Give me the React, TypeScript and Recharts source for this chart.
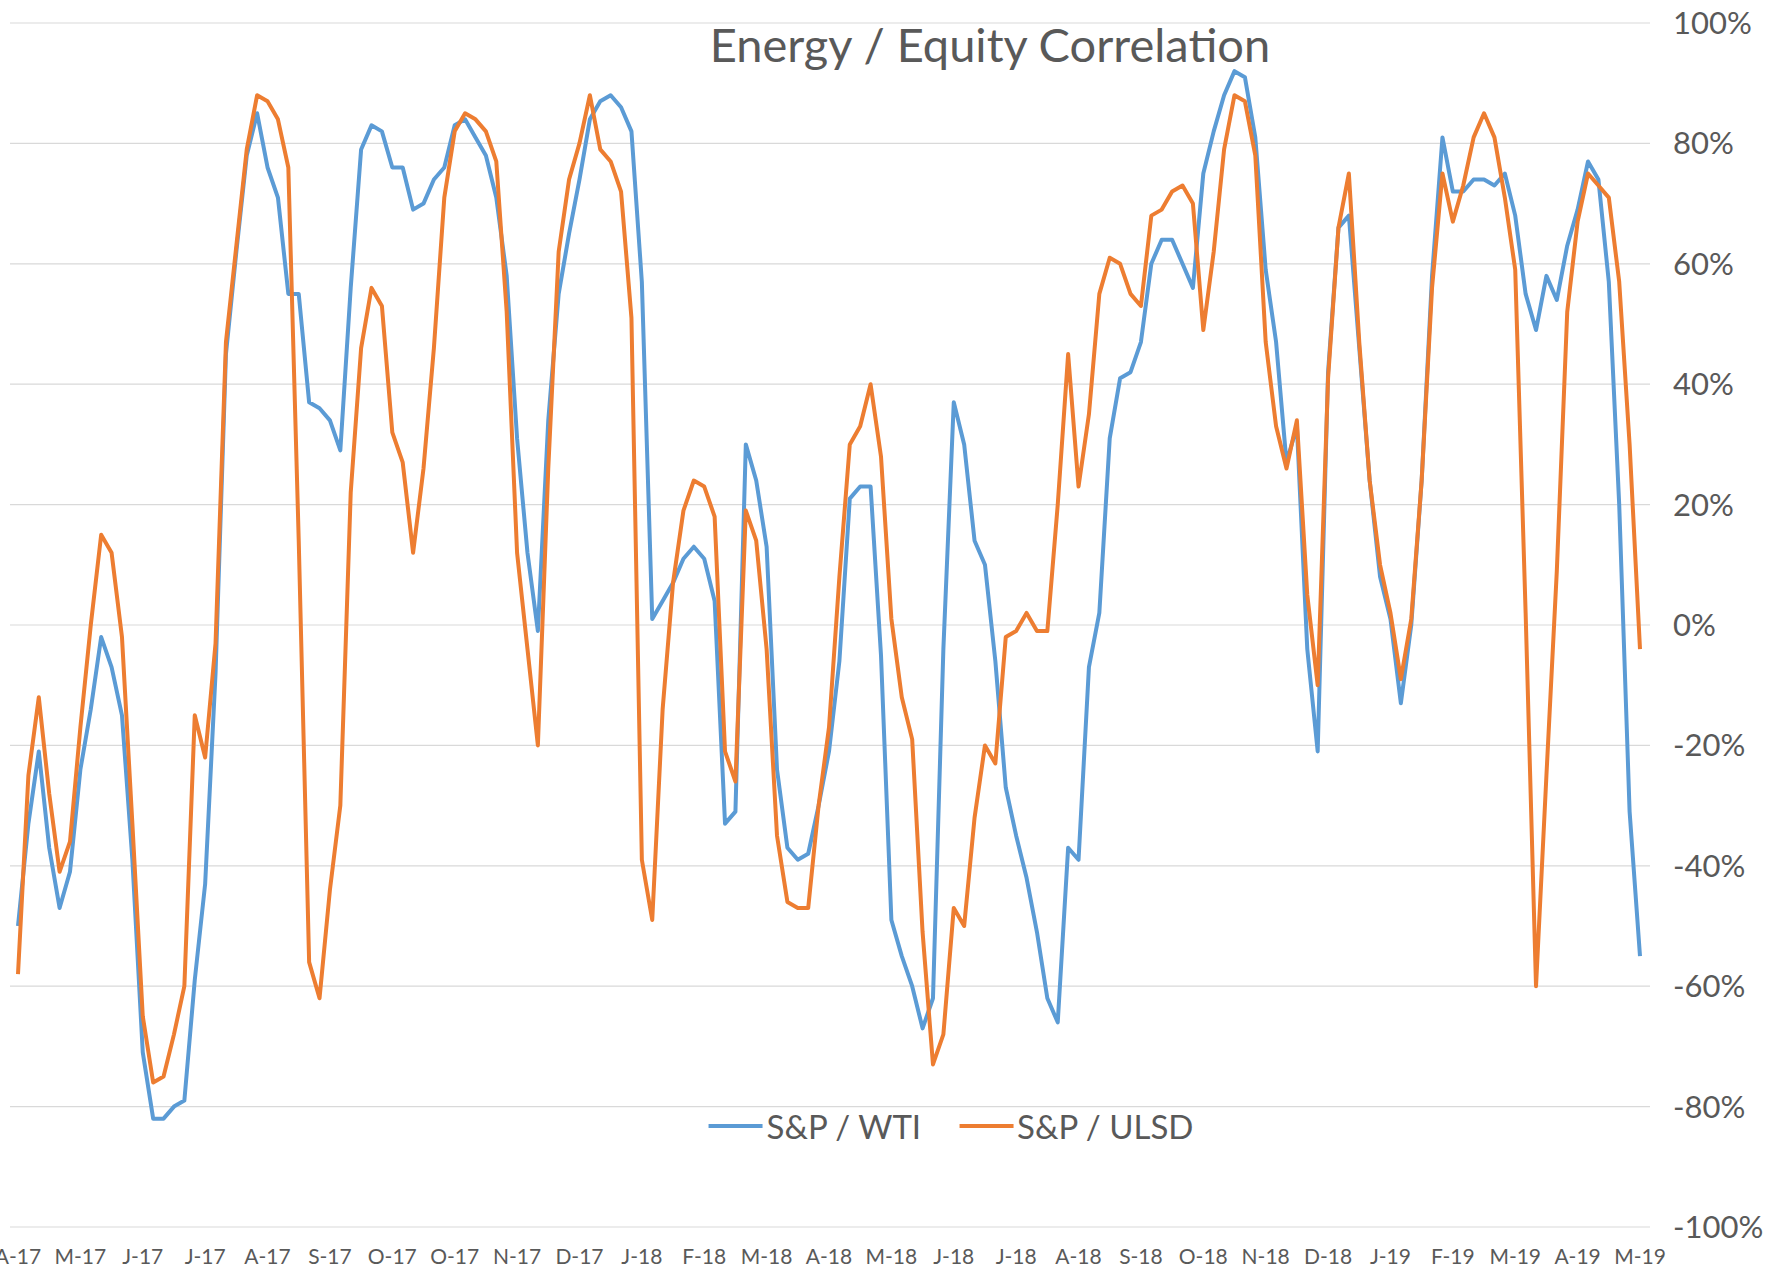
import { CartesianGrid, Line, LineChart, XAxis, YAxis } from 'recharts'

// one label every TICK_STEP points
const TICK_STEP = 6
const monthLabels = [
  'A-17', 'M-17', 'J-17', 'J-17', 'A-17', 'S-17', 'O-17', 'O-17', 'N-17', 'D-17',
  'J-18', 'F-18', 'M-18', 'A-18', 'M-18', 'J-18', 'J-18', 'A-18', 'S-18', 'O-18',
  'N-18', 'D-18', 'J-19', 'F-19', 'M-19', 'A-19', 'M-19',
]

// S&P / WTI correlation, %
const wti = [
  -50, -33, -21, -37, -47, -41, -24, -14, -2, -7,
  -15, -39, -71, -82, -82, -80, -79, -59, -43, -8,
  45, 62, 78, 85, 76, 71, 55, 55, 37, 36,
  34, 29, 56, 79, 83, 82, 76, 76, 69, 70,
  74, 76, 83, 84, 81, 78, 71, 58, 31, 12,
  -1, 34, 55, 65, 74, 84, 87, 88, 86, 82,
  57, 1, 4, 7, 11, 13, 11, 4, -33, -31,
  30, 24, 13, -24, -37, -39, -38, -30, -21, -6,
  21, 23, 23, -5, -49, -55, -60, -67, -62, -4,
  37, 30, 14, 10, -6, -27, -35, -42, -51, -62,
  -66, -37, -39, -7, 2, 31, 41, 42, 47, 60,
  64, 64, 60, 56, 75, 82, 88, 92, 91, 81,
  59, 47, 27, 33, -4, -21, 42, 66, 68, 46,
  24, 8, 1, -13, 0, 24, 58, 81, 72, 72,
  74, 74, 73, 75, 68, 55, 49, 58, 54, 63,
  69, 77, 74, 57, 20, -31, -55,
]

// S&P / ULSD correlation, %
const ulsd = [
  -58, -25, -12, -28, -41, -36, -17, 0, 15, 12,
  -2, -33, -65, -76, -75, -68, -60, -15, -22, -3,
  47, 63, 79, 88, 87, 84, 76, 14, -56, -62,
  -44, -30, 22, 46, 56, 53, 32, 27, 12, 26,
  46, 71, 82, 85, 84, 82, 77, 52, 12, -4,
  -20, 26, 62, 74, 80, 88, 79, 77, 72, 51,
  -39, -49, -14, 7, 19, 24, 23, 18, -21, -26,
  19, 14, -4, -35, -46, -47, -47, -30, -17, 8,
  30, 33, 40, 28, 1, -12, -19, -51, -73, -68,
  -47, -50, -32, -20, -23, -2, -1, 2, -1, -1,
  20, 45, 23, 35, 55, 61, 60, 55, 53, 68,
  69, 72, 73, 70, 49, 62, 79, 88, 87, 78,
  47, 33, 26, 34, 5, -10, 41, 66, 75, 47,
  24, 10, 2, -9, 1, 24, 56, 75, 67, 73,
  81, 85, 81, 71, 59, 2, -60, -25, 9, 52,
  67, 75, 73, 71, 57, 30, -4,
]

const yTicks = [-100, -80, -60, -40, -20, 0, 20, 40, 60, 80, 100]

const series = [
  { key: 'wti', name: 'S&P / WTI', color: '#5B9BD5' },
  { key: 'ulsd', name: 'S&P / ULSD', color: '#ED7D31' },
]

const rows = wti.map((v, i) => ({ idx: i, wti: v, ulsd: ulsd[i] }))
const xTicks = monthLabels.map((_, k) => k * TICK_STEP)

const textColor = '#595959'
const font = 'Lato, "Open Sans", sans-serif'

export default function App() {
  return (
    <div style={{ position: 'relative', width: 1765, height: 1281, background: '#fff', fontFamily: font }}>
      <style>{'body{margin:0}'}</style>
      <LineChart width={1765} height={1281} data={rows} margin={{ top: 23, right: 0, bottom: 0, left: 10 }}>
        <CartesianGrid vertical={false} stroke="#d9d9d9" strokeWidth={1.2} />
        <XAxis
          dataKey="idx"
          type="number"
          domain={[0, wti.length - 1]}
          ticks={xTicks}
          interval={0}
          tickFormatter={(v: number) => monthLabels[Math.round(v / TICK_STEP)]}
          padding={{ left: 8, right: 10 }}
          axisLine={false}
          tickLine={false}
          height={54}
          tickMargin={16}
          tick={{ fontSize: 21, fill: textColor, fontFamily: font }}
        />
        <YAxis
          orientation="right"
          domain={[-100, 100]}
          ticks={yTicks}
          interval={0}
          width={115}
          axisLine={false}
          tickLine={false}
          tickMargin={17}
          tickFormatter={(v: number) => `${v}%`}
          tick={{ fontSize: 31, fill: textColor, fontFamily: font, textAnchor: 'start' }}
        />
        {series.map((s) => (
          <Line
            key={s.key}
            type="linear"
            dataKey={s.key}
            name={s.name}
            stroke={s.color}
            strokeWidth={4}
            strokeLinejoin="round"
            dot={false}
            activeDot={false}
            isAnimationActive={false}
          />
        ))}
      </LineChart>

      <div
        style={{
          position: 'absolute',
          top: 16,
          left: 990,
          transform: 'translateX(-50%)',
          fontSize: 47,
          color: textColor,
          whiteSpace: 'nowrap',
          lineHeight: '56px',
        }}
      >
        Energy / Equity Correlation
      </div>

      <div
        style={{
          position: 'absolute',
          top: 1104,
          left: 951,
          transform: 'translateX(-50%)',
          display: 'flex',
          alignItems: 'center',
          gap: 38,
          fontSize: 33,
          color: textColor,
          whiteSpace: 'nowrap',
          lineHeight: '44px',
        }}
      >
        {series.map((s) => (
          <span key={s.key} style={{ display: 'flex', alignItems: 'center', gap: 4 }}>
            <span style={{ display: 'inline-block', width: 54, height: 4, background: s.color }} />
            {s.name}
          </span>
        ))}
      </div>
    </div>
  )
}
